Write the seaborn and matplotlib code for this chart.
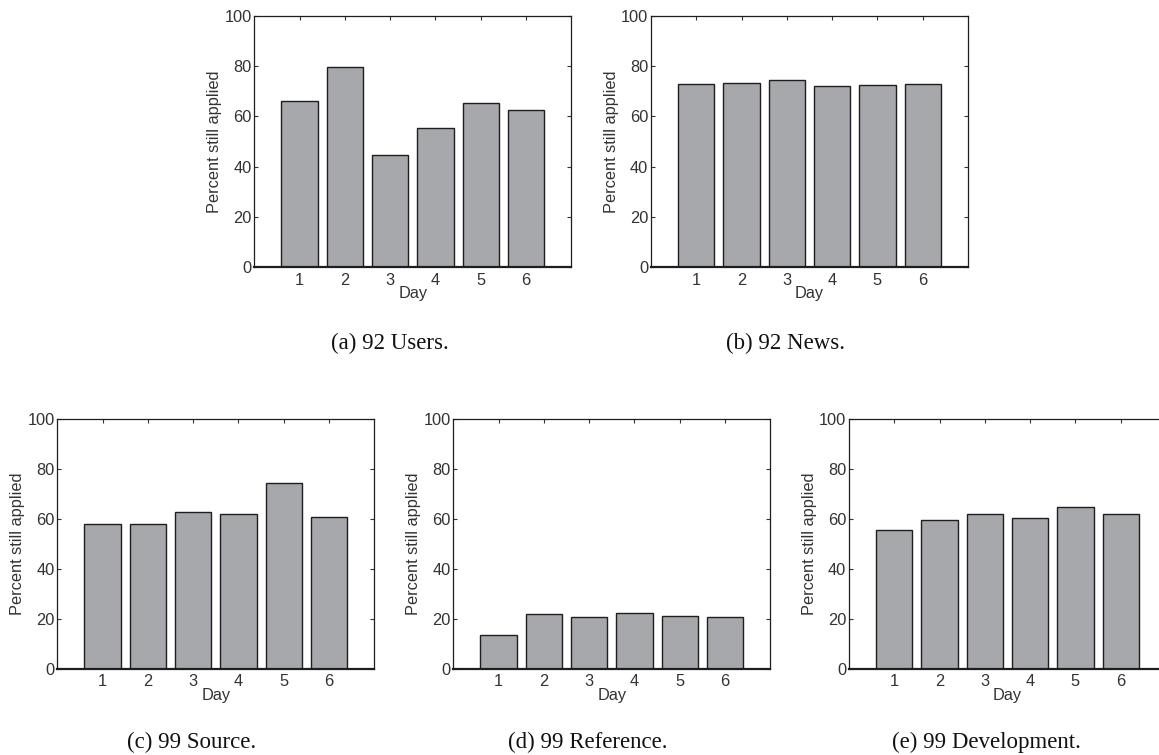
import matplotlib
matplotlib.use("Agg")
import matplotlib.pyplot as plt
import seaborn as sns
import pandas as pd

# Percentage of changes still applied, by day, for each mailing-list archive
days = [1, 2, 3, 4, 5, 6]
users_92 = [66.3, 79.5, 44.5, 55.5, 65.4, 62.6]
news_92 = [73.1, 73.5, 74.4, 72.3, 72.6, 73.1]
source_99 = [57.7, 57.9, 62.5, 61.7, 74.4, 60.5]
reference_99 = [13.6, 21.7, 20.5, 22.1, 20.9, 20.7]
development_99 = [55.3, 59.5, 61.7, 60.1, 64.8, 61.7]

captions = ["(a) 92 Users.", "(b) 92 News.", "(c) 99 Source.",
            "(d) 99 Reference.", "(e) 99 Development."]
series = [users_92, news_92, source_99, reference_99, development_99]

y_ticks = [0, 20, 40, 60, 80, 100]
x_label = "Day"
y_label = "Percent still applied"

sns.set_theme(style="ticks")
plt.rcParams["font.family"] = ["Liberation Sans", "DejaVu Sans"]

W, H = 1159, 755
DPI = 100
fig = plt.figure(figsize=(W / DPI, H / DPI), dpi=DPI)

BAR = "#a7a8ac"
EDGE = "#1e1e1e"
TEXT = "#333333"

# axes boxes in pixels: left, top, width, height
boxes = [
    (254.3, 16.0, 317.0, 251.0),
    (651.0, 16.0, 317.0, 251.0),
    (57.3, 418.7, 317.0, 250.0),
    (453.3, 418.7, 317.0, 250.0),
    (849.0, 418.7, 317.0, 250.0),
]
caption_pos = [(390, 343), (786, 343), (192, 742), (588, 742), (986, 742)]

for (l, t, w, h), vals, cap, (cx, cy) in zip(boxes, series, captions, caption_pos):
    ax = fig.add_axes([l / W, 1 - (t + h) / H, w / W, h / H])
    df = pd.DataFrame({"day": days, "pct": vals})
    sns.barplot(data=df, x="day", y="pct", native_scale=True, width=0.8,
                color=BAR, saturation=1, edgecolor=EDGE, linewidth=1.0,
                errorbar=None, ax=ax)
    ax.set_xlim(0, 7)
    ax.set_ylim(0, 100)
    ax.set_xticks(days)
    ax.set_xticklabels([str(d) for d in days])
    ax.set_yticks(y_ticks)
    ax.tick_params(direction="in", length=3, width=0.8, colors=TEXT,
                   labelsize=11.8, top=True, right=True)
    ax.tick_params(axis="y", pad=2.0)
    ax.tick_params(axis="x", pad=4)
    for s in ["top", "right", "left"]:
        ax.spines[s].set_visible(True)
        ax.spines[s].set_linewidth(0.9)
        ax.spines[s].set_color(EDGE)
    ax.spines["bottom"].set_linewidth(1.6)
    ax.spines["bottom"].set_color(EDGE)
    ax.set_xlabel(x_label, fontsize=11.8, color=TEXT, labelpad=-1)
    ax.set_ylabel(y_label, fontsize=11.8, color=TEXT, labelpad=1.5)
    ax.grid(False)
    fig.text(cx / W, 1 - cy / H, cap, ha="center", va="center",
             fontsize=16.5, family=["Liberation Serif", "DejaVu Serif"],
             color="#111111")

fig.savefig("out.png", dpi=DPI, facecolor="white")
